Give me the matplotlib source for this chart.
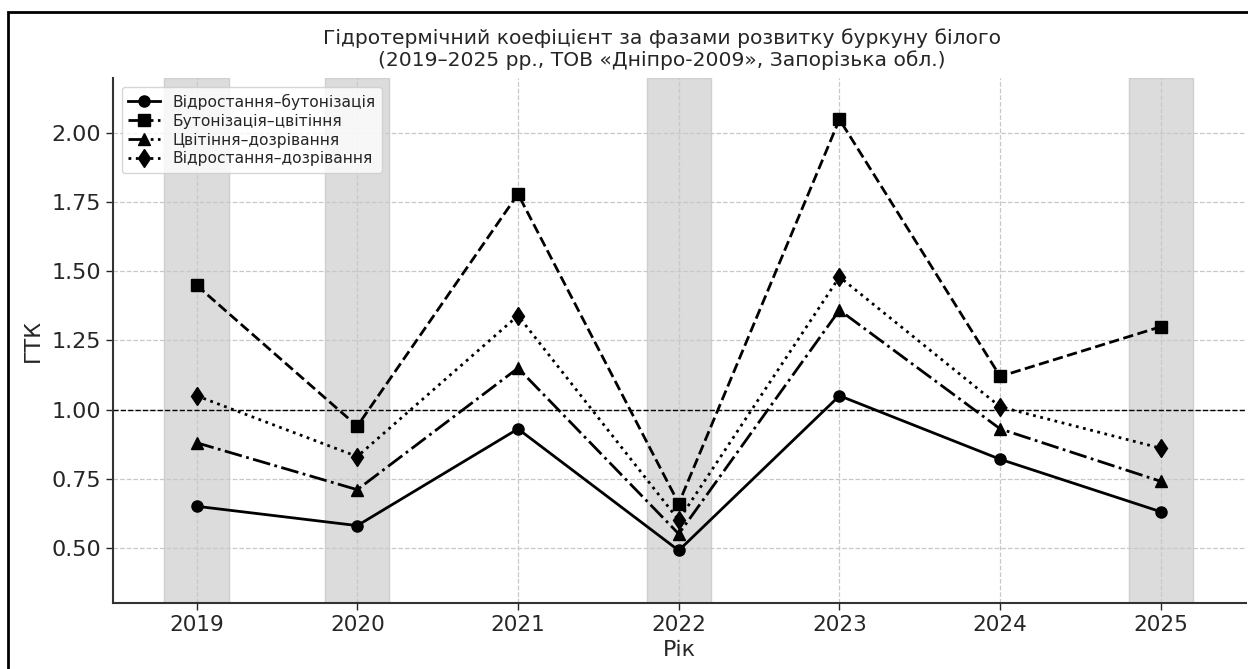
import numpy as np
import matplotlib
matplotlib.use("Agg")
import matplotlib.pyplot as plt
from matplotlib.patches import Rectangle

years = [2019, 2020, 2021, 2022, 2023, 2024, 2025]

# ГТК by phase
gtk_vb = [0.65, 0.58, 0.93, 0.49, 1.05, 0.82, 0.63]   # відростання–бутонізація
gtk_bc = [1.45, 0.94, 1.78, 0.66, 2.05, 1.12, 1.30]   # бутонізація–цвітіння
gtk_cd = [0.88, 0.71, 1.15, 0.55, 1.36, 0.93, 0.74]   # цвітіння–дозрівання
gtk_vd = [1.05, 0.83, 1.34, 0.60, 1.48, 1.01, 0.86]   # відростання–дозрівання

labels = ["Відростання–бутонізація", "Бутонізація–цвітіння",
          "Цвітіння–дозрівання", "Відростання–дозрівання"]
shaded_years = [2019, 2020, 2022, 2025]

text_col = "#262626"

fig = plt.figure(figsize=(12.48, 6.69), dpi=100)
ax = fig.add_axes([0.0905, 0.0987, 0.908, 0.7847])

# outer frame (cropped on right/bottom)
fig.patches.append(Rectangle((8 / 1248, -0.1), 1.2, 1 - 12 / 669 + 0.1,
                             transform=fig.transFigure, fill=False,
                             edgecolor="black", linewidth=2))

for y in shaded_years:
    ax.axvspan(y - 0.2, y + 0.2, facecolor="#dcdcdc", edgecolor="#cfcfcf",
               lw=1, zorder=0)

ax.grid(True, linestyle="--", color="#c8c8c8", linewidth=0.9, zorder=1)
ax.set_axisbelow(True)

ax.plot(years, gtk_vb, color="black", linestyle="-", marker="o",
        linewidth=2, markersize=8, label=labels[0], zorder=3)
ax.plot(years, gtk_bc, color="black", linestyle="--", marker="s",
        linewidth=2, markersize=8, label=labels[1], zorder=3)
ax.plot(years, gtk_cd, color="black", linestyle="-.", marker="^",
        linewidth=2, markersize=8, label=labels[2], zorder=3)
ax.plot(years, gtk_vd, color="black", linestyle=":", marker="d",
        linewidth=2, markersize=9.5, label=labels[3], zorder=3)

ax.axhline(1.0, color="black", linestyle="--", linewidth=1, zorder=2)

ax.set_xlim(2018.48, 2025.53)
ax.set_ylim(0.3, 2.2)
ax.set_xticks(years)
ax.set_yticks(np.arange(0.5, 2.01, 0.25))
ax.yaxis.set_major_formatter(matplotlib.ticker.FormatStrFormatter("%.2f"))
ax.tick_params(axis="x", labelsize=15.5, colors=text_col, length=5, width=1)
ax.tick_params(axis="y", labelsize=16, colors=text_col, length=5, width=1)

for s in ["top", "right"]:
    ax.spines[s].set_visible(False)
for s in ["left", "bottom"]:
    ax.spines[s].set_color("#333333")
    ax.spines[s].set_linewidth(1.5)

ax.set_xlabel("Рік", fontsize=16, color=text_col, labelpad=4)
ax.set_ylabel("ГТК", fontsize=16, color=text_col, labelpad=6)

fig.text(662 / 1248, 1 - 49 / 669,
         "Гідротермічний коефіцієнт за фазами розвитку буркуну білого\n"
         "(2019–2025 рр., ТОВ «Дніпро-2009», Запорізька обл.)",
         ha="center", va="center", fontsize=14.6, color=text_col,
         linespacing=1.12)

leg = ax.legend(loc="upper left", fontsize=11.2, frameon=True,
                borderaxespad=0.6, handlelength=2.0, labelspacing=0.25)
leg.get_frame().set_edgecolor("#cccccc")
for t in leg.get_texts():
    t.set_color(text_col)

fig.savefig("out.png", dpi=100)
